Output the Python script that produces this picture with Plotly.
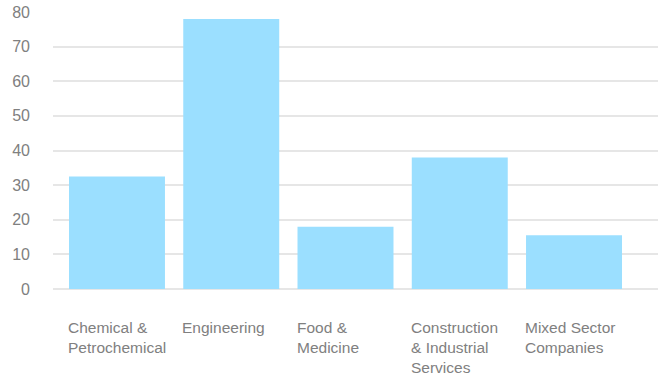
import plotly.graph_objects as go

categories = ["Chemical &<br>Petrochemical", "Engineering", "Food &<br>Medicine",
              "Construction<br>& Industrial<br>Services", "Mixed Sector<br>Companies"]
cat_keys = ["Chemical", "Engineering", "Food", "Construction", "Mixed"]
values = [32.5, 78, 18, 38, 15.5]
y_ticks = [0, 10, 20, 30, 40, 50, 60, 70, 80]

bar_color = "#9bdfff"
text_color = "#808080"
font_family = "Liberation Sans, Arial, sans-serif"

fig = go.Figure(go.Bar(x=cat_keys, y=values, marker_color=bar_color,
                       marker_line_width=0, hoverinfo="skip"))

for key, label in zip(cat_keys, categories):
    fig.add_annotation(x=key, y=0, xref="x", yref="paper", text=label,
                       showarrow=False, xanchor="left", yanchor="top", align="left",
                       xshift=-51, yshift=-28,
                       font=dict(size=15.5, color=text_color, family=font_family))

fig.update_layout(
    width=665, height=376,
    margin=dict(l=53, r=7, t=12, b=87),
    paper_bgcolor="white", plot_bgcolor="white",
    bargap=0.16,
    showlegend=False,
    font=dict(family=font_family, color=text_color),
)
fig.update_xaxes(showticklabels=False, showgrid=False, zeroline=False,
                 range=[-0.56, 4.735], fixedrange=True, automargin=False)
fig.update_yaxes(range=[0, 80], tickvals=y_ticks, showgrid=True, gridcolor="#e6e6e6",
                 gridwidth=2, zeroline=True, zerolinecolor="#e6e6e6", zerolinewidth=2,
                 tickfont=dict(size=16, color=text_color, family=font_family),
                 ticklabelstandoff=22, fixedrange=True, automargin=False)

fig.write_html("out.html", config={"displayModeBar": False},
               post_script="document.body.style.margin='0';")
